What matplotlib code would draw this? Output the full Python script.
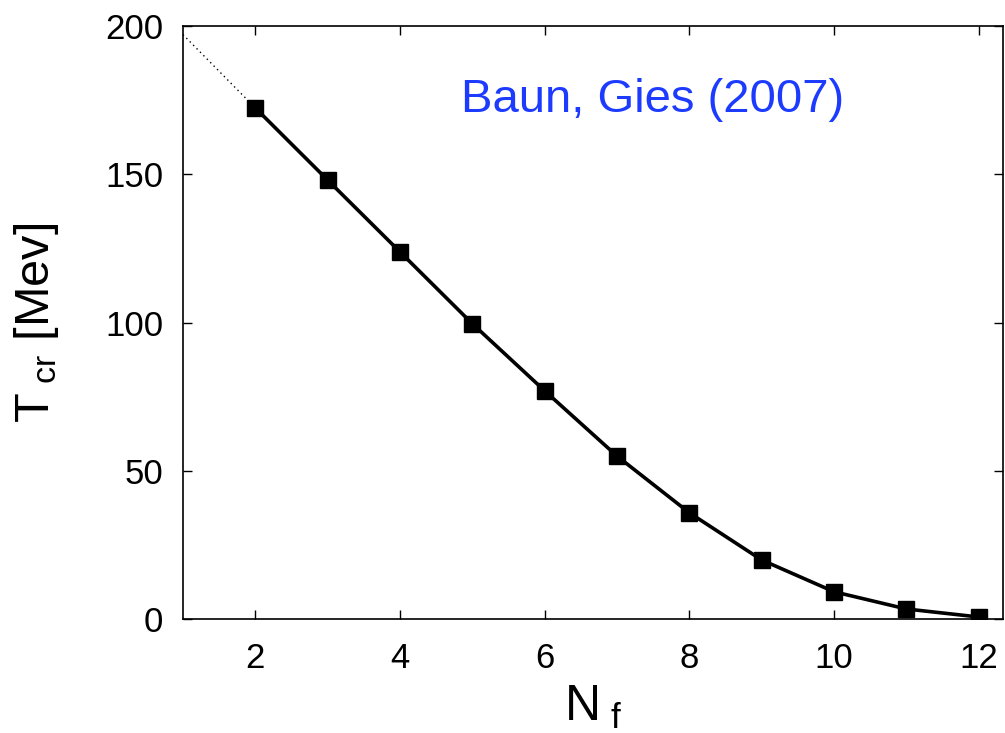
import matplotlib
matplotlib.use("Agg")
import matplotlib.pyplot as plt

plt.rcParams['font.family'] = ['Liberation Sans', 'DejaVu Sans']
plt.rcParams['mathtext.fontset'] = 'custom'
plt.rcParams['mathtext.rm'] = 'Liberation Sans'
plt.rcParams['mathtext.it'] = 'Liberation Sans'

# critical temperature vs number of flavours
nf = [2, 3, 4, 5, 6, 7, 8, 9, 10, 11, 12]
tcr = [172.3, 148.0, 123.8, 99.6, 77.0, 55.0, 35.9, 20.0, 9.3, 3.5, 0.8]

# dotted extrapolation towards Nf=1
nf_ext = [1, 2]
tcr_ext = [197, 172.3]

fig = plt.figure(figsize=(10.05, 7.33), dpi=100)
ax = fig.add_axes([0.182, 0.155, 0.8157, 0.81])

ax.plot(nf_ext, tcr_ext, color='black', lw=1.0, ls=(0, (1, 2.5)))
ax.plot(nf, tcr, color='black', lw=2.6, marker='s', markersize=12)

ax.set_xlim(1, 12.33)
ax.set_ylim(0, 200)
ax.set_xticks([2, 4, 6, 8, 10, 12])
ax.set_yticks([0, 50, 100, 150, 200])
ax.tick_params(direction='in', length=6.5, width=1, labelsize=25,
               top=True, right=True)
ax.tick_params(axis='y', pad=14)
ax.tick_params(axis='x', pad=16)
for s in ax.spines.values():
    s.set_linewidth(1.2)

ax.set_xlabel(r'N$_{\ \mathrm{f}}$', fontsize=36, labelpad=7)
ax.set_ylabel(r'T$_{\ \mathrm{cr}}$ [Mev]', fontsize=35, labelpad=32)

ax.text(0.573, 0.875, 'Baun, Gies (2007)', transform=ax.transAxes,
        color='#1d3bff', fontsize=34, va='center', ha='center')

fig.savefig('out.png', dpi=100)
